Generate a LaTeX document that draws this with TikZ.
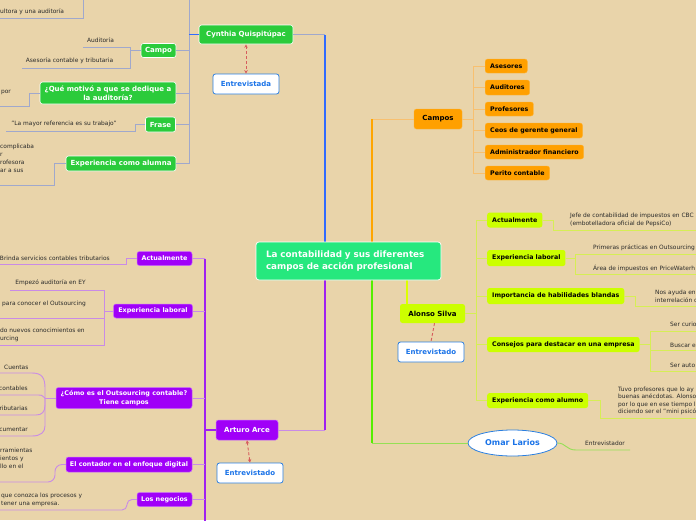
\documentclass[tikz,border=0pt]{standalone}
\usepackage{fontspec}
\setmainfont{DejaVu Sans}
\usetikzlibrary{shapes.geometric,arrows.meta}
\definecolor{bg}{HTML}{E9D4AA}
\definecolor{cgreen}{HTML}{2BCB3B}
\definecolor{cpurple}{HTML}{A000F8}
\definecolor{corange}{HTML}{FFA000}
\definecolor{cyellow}{HTML}{CCFF00}
\definecolor{ctitle}{HTML}{26E87E}
\definecolor{cblue}{HTML}{2B7FE0}
\definecolor{cbluet}{HTML}{1A73E8}
\definecolor{cred}{HTML}{D65C5C}
\definecolor{ctext}{HTML}{2A2A2A}
\definecolor{lblue}{HTML}{2F6BFF}
\definecolor{lgrey}{HTML}{A0A8CC}
\definecolor{lpurple}{HTML}{A020F0}
\definecolor{lpurple2}{HTML}{C98BE6}
\definecolor{lorange}{HTML}{FFA500}
\definecolor{lorange2}{HTML}{F8C070}
\definecolor{lyellow}{HTML}{DDFF00}
\definecolor{lyellow2}{HTML}{D6EE55}
\definecolor{lgreen}{HTML}{55EE00}
\definecolor{lgreen2}{HTML}{95E055}
\begin{document}
\begin{tikzpicture}[x=1pt,y=-1pt,
  bx/.style={rounded corners=2.5pt, inner sep=0pt, align=center},
  gbox/.style={bx, fill=cgreen, draw=white, line width=0.6pt, text=white, font=\bfseries\fontsize{7}{9.5}\selectfont},
  pbox/.style={bx, fill=cpurple, draw=cpurple!60!white, line width=0.5pt, text=white, font=\bfseries\fontsize{7}{9}\selectfont},
  pbox2/.style={pbox, font=\bfseries\fontsize{6.4}{9}\selectfont},
  obox/.style={bx, fill=corange, draw=corange!80!white, line width=0.4pt, text=black, font=\bfseries\fontsize{6.3}{8}\selectfont},
  ybox/.style={bx, fill=cyellow, text=black, font=\bfseries\fontsize{6.3}{8}\selectfont},
  ebox/.style={bx, fill=white, draw=cblue, line width=0.8pt, text=cbluet, font=\bfseries\fontsize{7}{8}\selectfont},
  tbox/.style={rounded corners=3pt, inner sep=0pt, fill=ctitle, draw=white, line width=0.7pt, text=white, font=\bfseries\fontsize{8.8}{11.5}\selectfont},
  lbl/.style={inner sep=0pt, font=\fontsize{5.9}{8}\selectfont, text=ctext, align=left},
  dashr/.style={cred, dashed, line width=0.9pt, dash pattern=on 3pt off 2pt},
  dtips/.style={{Stealth[length=3.5pt,width=3.5pt,open]}-{Stealth[length=3.5pt,width=3.5pt]}},
  bmain/.style={lblue, line width=1.4pt},
  clink/.style={lgrey, line width=1pt},
  pmain/.style={lpurple, line width=1.3pt},
  plink/.style={lpurple2, line width=0.9pt},
  omain/.style={lorange, line width=1.3pt},
  olink/.style={lorange2, line width=0.9pt},
  ymain/.style={lyellow, line width=1.3pt},
  ylink/.style={lyellow2, line width=0.9pt},
  gmain/.style={lgreen, line width=1.3pt},
  glink/.style={lgreen2, line width=0.9pt}
]
\useasboundingbox (0,0) rectangle (696,520);
\clip (0,0) rectangle (696,520);
\fill[bg] (0,0) rectangle (696,520);

% ---------------- Cynthia ----------------
\node[gbox, minimum width=94, minimum height=19] (cyn) at (246,34.5) {Cynthia Quispitúpac};
\node[ebox, minimum width=66, minimum height=20] (cynent) at (246,84) {Entrevistada};
\node[gbox, minimum width=35, minimum height=14] (campo) at (158.5,50.5) {Campo};
\node[gbox, minimum width=136, minimum height=22] (qmot) at (108,93) {¿Qué motivó a que se dedique a\\la auditoría?};
\node[gbox, minimum width=30, minimum height=15] (frase) at (160.5,124.5) {Frase};
\node[gbox, minimum width=110, minimum height=15] (expal) at (121,163.5) {Experiencia como alumna};

\coordinate (cynbus) at (189,34.5);
\coordinate (cyntop) at (189,-5);
\draw[clink] (cyntop) |- (expal.east);
\draw[clink] (campo.east) -- (campo.east -| cynbus);
\draw[clink] (qmot.east) -- (qmot.east -| cynbus);
\draw[clink] (frase.east) -- (frase.east -| cynbus);
\draw[bmain] (cyn.west) -- (cynbus);
\draw[dashr, dtips] (cyn.south) -- (cynent.north);

\node[lbl, anchor=west] (ultora) at (0,12) {ultora y una auditoría};
\coordinate (topA) at (83,-5);
\coordinate (topB) at (0,18);
\draw[clink] (topA) |- (topB);

\node[lbl] (aud) at (100.5,40) {Auditoría};
\node[lbl] (ase) at (69.5,61) {Asesoría contable y tributaria};
\coordinate (audend) at (83,47);
\coordinate (aseend) at (22,68);
\draw[clink] (campo.west) -- ++(-10,0) |- (audend);
\draw[clink] (campo.west) -- ++(-10,0) |- (aseend);

\node[lbl, anchor=east] (por) at (11,92) {por};
\coordinate (porend) at (0,106);
\draw[clink] (qmot.west) -- ++(-10,0) |- (porend);

\node[lbl] (fr) at (64,124) {"La mayor referencia es su trabajo"};
\coordinate (frend) at (6,131);
\draw[clink] (frase.west) -- ++(-10,0) |- (frend);

\node[lbl, anchor=north west] (exptxt) at (0,143.5) {complicaba\\r\\rofesora\\ar a sus};
\coordinate (expend) at (0,185);
\draw[clink] (expal.west) -- ++(-11,0) |- (expend);

% ---------------- Arturo ----------------
\node[pbox, minimum width=62, minimum height=20] (art) at (247,430) {Arturo Arce};
\node[ebox, minimum width=66, minimum height=20] (artent) at (250,473) {Entrevistado};
\draw[dashr, dtips] (art.south) -- (artent.north);

\node[pbox2, minimum width=55, minimum height=14] (aact) at (164.5,258.5) {Actualmente};
\node[pbox2, minimum width=79, minimum height=14] (aexp) at (153,311) {Experiencia laboral};
\node[pbox2, minimum width=136, minimum height=21] (acomo) at (124,398) {¿Cómo es el Outsourcing contable?\\Tiene campos};
\node[pbox2, minimum width=126, minimum height=15] (adig) at (129,464.5) {El contador en el enfoque digital};
\node[pbox2, minimum width=55, minimum height=14] (aneg) at (164.5,499.5) {Los negocios};

\coordinate (artbus) at (205,430);
\coordinate (artbot) at (205,525);
\draw[pmain] (art.west) -- (artbus);
\draw[pmain] (aact.east -| artbus) -- (artbot);
\draw[plink] (aact.east) -- (aact.east -| artbus);
\draw[plink] (aexp.east) -- (aexp.east -| artbus);
\draw[plink] (acomo.east) -- (acomo.east -| artbus);
\draw[plink] (adig.east) -- (adig.east -| artbus);
\draw[plink] (aneg.east) -- (aneg.east -| artbus);

\node[lbl, anchor=east] (brinda) at (110,258) {Brinda servicios contables tributarios};
\coordinate (brend) at (0,264);
\draw[plink] (aact.west) -- ++(-10,0) |- (brend);

\node[lbl] (emp) at (50.5,283) {Empezó auditoría en EY};
\node[lbl, anchor=east] (para) at (86,304) {para conocer el Outsourcing};
\node[lbl, anchor=north west] (nuevos) at (0,327.5) {do nuevos conocimientos en\\urcing};
\coordinate (empend) at (10,290);
\coordinate (paraend) at (0,318);
\coordinate (nuevend) at (0,345);
\draw[plink] (aexp.west) -- ++(-9,0) |- (empend);
\draw[plink] (aexp.west) -- ++(-9,0) |- (paraend);
\draw[plink] (aexp.west) -- ++(-9,0) |- (nuevend);

\node[lbl, anchor=west] (cuentas) at (4,367) {Cuentas};
\node[lbl, anchor=east] (contab) at (28,388) {contables};
\node[lbl, anchor=east] (tribu) at (28,408) {ributarias};
\node[lbl, anchor=east] (docu) at (28,429) {cumentar};
\coordinate (acj) at (45,398);
\coordinate (c1) at (0,373);
\coordinate (c2) at (0,395);
\coordinate (c3) at (0,415);
\coordinate (c4) at (0,436);
\draw[plink] (acomo.west) -- (acj);
\draw[plink] (acj) -- (45,388) .. controls (45,378) and (42,373) .. (32,373) -- (c1);
\draw[plink] (acj) .. controls (43,395) and (41,395) .. (36,395) -- (c2);
\draw[plink] (acj) -- (45,405) .. controls (45,412) and (42,415) .. (36,415) -- (c3);
\draw[plink] (acj) -- (45,426) .. controls (45,432) and (41,436) .. (32,436) -- (c4);

\node[lbl, anchor=north west] (digtxt) at (0,447.5) {rramientas\\ientos y\\llo en el};
\coordinate (digend) at (0,482);
\draw[plink, rounded corners=7pt] (adig.west) -- (55,464.5) -- (55,482) -- (digend);

\node[lbl, anchor=north west] (negtxt) at (1,492.5) {que conozca los procesos y\\tener una empresa.};
\coordinate (negend) at (0,510);
\draw[plink, rounded corners=5pt] (aneg.west) -- (127,499.5) -- (127,510) -- (negend);

% ---------------- Campos ----------------
\node[obox, minimum width=48, minimum height=20, font=\bfseries\fontsize{7}{8}\selectfont] (camp) at (438,119) {Campos};
\node[obox, anchor=west, minimum height=14, inner xsep=5pt] (o1) at (485,66) {Asesores};
\node[obox, anchor=west, minimum height=15, inner xsep=5pt] (o2) at (485,87.5) {Auditores};
\node[obox, anchor=west, minimum height=14, inner xsep=5pt] (o3) at (485,109) {Profesores};
\node[obox, anchor=west, minimum height=15, inner xsep=5pt] (o4) at (485,130.5) {Ceos de gerente general};
\node[obox, anchor=west, minimum height=14, inner xsep=5pt] (o5) at (485,152) {Administrador financiero};
\node[obox, anchor=west, minimum height=14, inner xsep=5pt] (o6) at (485,173) {Perito contable};
\coordinate (obus) at (473,119);
\draw[olink] (camp.east) -- (obus);
\draw[olink] (o1.west) -| (obus);
\draw[olink] (o6.west) -| (obus);
\draw[olink] (o2.west) -- (o2.west -| obus);
\draw[olink] (o3.west) -- (o3.west -| obus);
\draw[olink] (o4.west) -- (o4.west -| obus);
\draw[olink] (o5.west) -- (o5.west -| obus);

% ---------------- Alonso ----------------
\node[ybox, minimum width=65, minimum height=19, font=\bfseries\fontsize{7}{8}\selectfont] (alo) at (432.5,313.5) {Alonso Silva};
\node[ebox, minimum width=66, minimum height=20] (aloent) at (431,352) {Entrevistado};
\draw[dashr] ([xshift=2pt]alo.south) -- (aloent.north);

\node[ybox, anchor=west, minimum height=15, inner xsep=5pt] (y1) at (487,220) {Actualmente};
\node[ybox, anchor=west, minimum height=16, inner xsep=5pt] (y2) at (487,258) {Experiencia laboral};
\node[ybox, anchor=west, minimum height=16, inner xsep=5pt] (y3) at (487,296) {Importancia de habilidades blandas};
\node[ybox, anchor=west, minimum height=15, inner xsep=5pt] (y4) at (487,344.5) {Consejos para destacar en una empresa};
\node[ybox, anchor=west, minimum height=15, inner xsep=5pt] (y5) at (487,400.5) {Experiencia como alumno};
\coordinate (ybus) at (476,313.5);
\draw[ylink] (alo.east) -- (ybus);
\draw[ylink] (y1.west) -| (ybus);
\draw[ylink] (y5.west) -| (ybus);
\draw[ylink] (y2.west) -- (y2.west -| ybus);
\draw[ylink] (y3.west) -- (y3.west -| ybus);
\draw[ylink] (y4.west) -- (y4.west -| ybus);

\node[lbl, anchor=north west] (jefe) at (570,212.5) {Jefe de contabilidad de impuestos en CBC\\(embotelladora oficial de PepsiCo)};
\coordinate (jefeend) at (700,230);
\draw[ylink] (y1.east) -- ++(11,0) |- (jefeend);

\node[lbl, anchor=west] (prim) at (593,248) {Primeras prácticas en Outsourcing};
\node[lbl, anchor=west] (area) at (593,268) {Área de impuestos en PriceWaterh};
\coordinate (primend) at (700,254);
\coordinate (areaend) at (700,274);
\draw[ylink] (y2.east) -- ++(10,0) |- (primend);
\draw[ylink] (y2.east) -- ++(10,0) |- (areaend);

\node[lbl, anchor=north west] (nos) at (655,289.5) {Nos ayuda en\\interrelación c};
\coordinate (nosend) at (700,306);
\draw[ylink] (y3.east) -- ++(11,0) |- (nosend);

\node[lbl, anchor=west] (s1) at (670,324) {Ser curio};
\node[lbl, anchor=west] (s2) at (670,345) {Buscar e};
\node[lbl, anchor=west] (s3) at (670,365) {Ser auto};
\coordinate (s1end) at (700,331);
\coordinate (s2end) at (700,350);
\coordinate (s3end) at (700,371);
\draw[ylink] (y4.east) -- ++(11,0) |- (s1end);
\draw[ylink] (y4.east) -- ++(11,0) |- (s2end);
\draw[ylink] (y4.east) -- ++(11,0) |- (s3end);

\node[lbl, anchor=north west, font=\fontsize{5.9}{7.5}\selectfont] (tuvo) at (618,386.5) {Tuvo profesores que lo ay\\buenas anécdotas. Alonso\\por lo que en ese tiempo l\\diciendo ser el "mini psicó};
\coordinate (tuvoend) at (700,418);
\draw[ylink] (y5.east) -- ++(12,0) |- (tuvoend);

% ---------------- Omar ----------------
\node[ellipse, draw=cblue, fill=white, line width=0.8pt, minimum width=89, minimum height=26, inner sep=0pt, text=cbluet, font=\bfseries\fontsize{8}{9}\selectfont] (omar) at (512.5,443) {Omar Larios};
\node[lbl] (entvor) at (605,443.5) {Entrevistador};
\coordinate (entvorend) at (630,450);
\draw[glink] (omar.east) .. controls (566,443) and (566,450) .. (576,450) -- (entvorend);

% ---------------- main branches ----------------
\coordinate (tbb) at (325,242);
\coordinate (tob) at (372,242);
\coordinate (tpb) at (325,280);
\coordinate (tgb) at (372,280);
\coordinate (tyb) at (407,280);
\draw[clink] (cyn.east) -- (cyn.east -| tbb);
\draw[bmain] (tbb) -- (cyn.east -| tbb);
\draw[olink] (camp.west) -- (camp.west -| tob);
\draw[omain] (tob) -- (camp.west -| tob);
\draw[plink] (art.east) -- (art.east -| tpb);
\draw[pmain] (tpb) -- (art.east -| tpb);
\draw[glink] (omar.west) -- (omar.west -| tgb);
\draw[gmain] (tgb) -- (omar.west -| tgb);
\draw[ymain] (tyb) -- (alo.north -| tyb);

\node[tbox, minimum width=185, minimum height=38, text width=165, align=left] (title) at (348.5,261) {La contabilidad y sus diferentes\\campos de acción profesional};
\end{tikzpicture}
\end{document}
